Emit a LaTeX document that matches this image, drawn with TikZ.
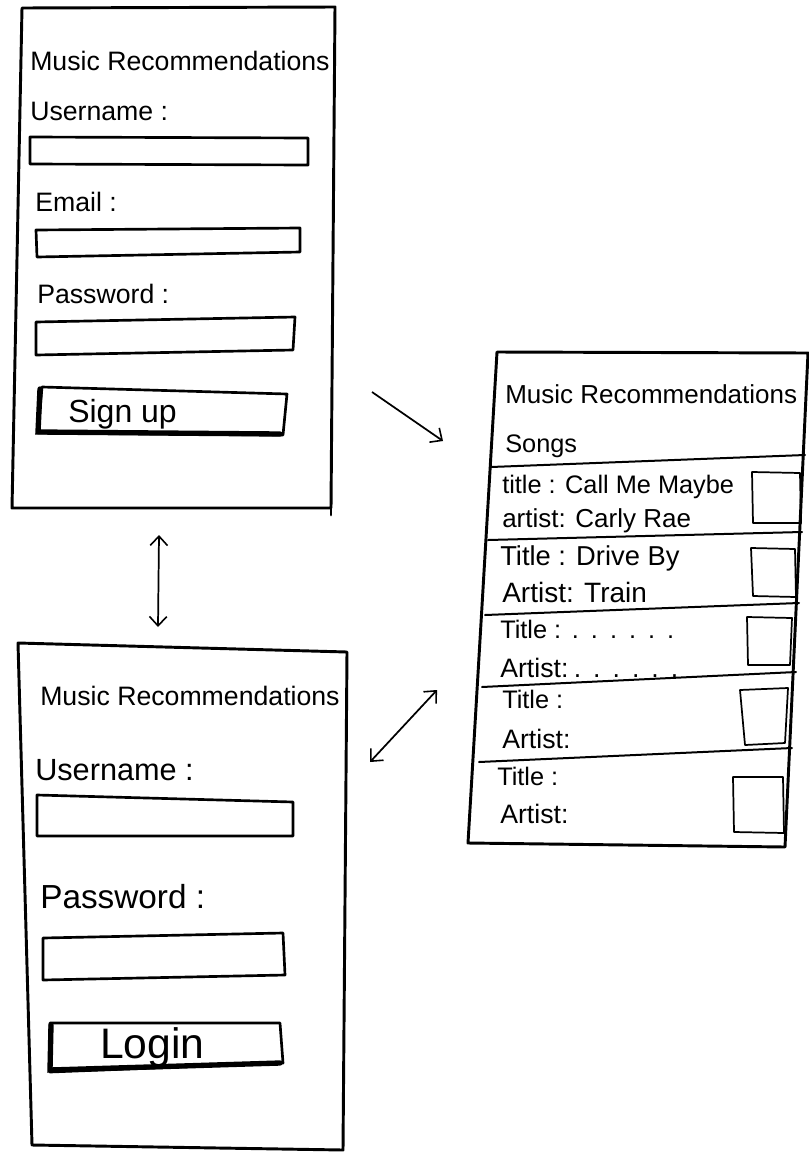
\documentclass[tikz,border=0pt]{standalone}
\usepackage{fontspec}
\setmainfont{Liberation Sans}
\usetikzlibrary{arrows.meta}
\begin{document}
\begin{tikzpicture}[x=0.75pt,y=-0.75pt,
  frame/.style={line width=2.2pt,line join=round,line cap=round},
  field/.style={line width=2pt,line join=round,line cap=round},
  sep/.style={line width=1.5pt,line cap=round},
  chk/.style={line width=1.3pt,line join=round},
  heavy/.style={line width=4pt,line cap=round},
  lbl/.style={anchor=base west,inner sep=0pt,font=\fontsize{20}{24}\selectfont},
  tip/.tip={Straight Barb[length=7pt,width=13pt,line width=1.2pt]},
  conn/.style={line width=1.3pt,-tip},
  conn2/.style={line width=1.3pt,tip-tip}]
\useasboundingbox (0,0) rectangle (809,1153);

% ---------- Sign-up screen ----------
\draw[frame] (22,8) -- (335,7) -- (331,508) -- (12,508) -- cycle;
\draw[frame] (331,508) -- (331,515);
\node[lbl] (t1) at (30,70) {Music Recommendations};
\node[lbl] (u1) at (30,120) {Username :};
\draw[field] (30,137) -- (308,138) -- (308,165) -- (30,164) -- cycle;
\node[lbl] (e1) at (35,211) {Email :};
\draw[field] (36,230) -- (300,228) -- (300,252) -- (37,257) -- cycle;
\node[lbl] (p1) at (37,303) {Password :};
\draw[field] (36,322) -- (295,317) -- (293,350) -- (36,355) -- cycle;
\draw[field] (42,387) -- (287,394) -- (283,435) -- (38,433) -- cycle;
\draw[heavy] (40,389) -- (38,432) -- (280,434);
\node[lbl,font=\fontsize{24}{28}\selectfont] (s1) at (68,422) {Sign up};

% ---------- Login screen ----------
\draw[frame] (18,643) -- (347,652) -- (343,1150) -- (32,1145) -- cycle;
\node[lbl] (t2) at (40,705) {Music Recommendations};
\node[lbl,font=\fontsize{23}{27}\selectfont] (u2) at (35,780) {Username :};
\draw[field] (37,795) -- (293,802) -- (293,836) -- (37,836) -- cycle;
\node[lbl,font=\fontsize{25}{29}\selectfont] (p2) at (40,908) {Password :};
\draw[field] (43,938) -- (283,933) -- (285,975) -- (43,980) -- cycle;
\draw[field] (50,1023) -- (280,1023) -- (283,1063) -- (50,1072) -- cycle;
\draw[heavy] (51,1025) -- (50,1070) -- (280,1063);
\node[lbl,font=\fontsize{32}{36}\selectfont] (l2) at (100,1058) {Login};

% ---------- Songs screen ----------
\draw[frame] (497,352) -- (808,353) -- (785,847) -- (468,843) -- cycle;
\node[lbl,font=\fontsize{19.5}{23}\selectfont] (t3) at (505,403) {Music Recommendations};
\node[lbl,font=\fontsize{19}{23}\selectfont] (sg) at (505,452) {Songs};
\draw[sep] (491,467) -- (805,455);
\draw[sep] (488,540) -- (802,532);
\draw[sep] (485,615) -- (799,603);
\draw[sep] (482,687) -- (796,672);
\draw[sep] (479,762) -- (792,748);

\node[lbl,font=\fontsize{19}{23}\selectfont] (r1t) at (502,493) {title : Call Me Maybe};
\node[lbl,font=\fontsize{19.5}{23}\selectfont] (r1a) at (502,527) {artist: Carly Rae};
\draw[chk] (752,472) -- (800,473) -- (801,523) -- (753,523) -- cycle;

\node[lbl,font=\fontsize{20.5}{24}\selectfont] (r2t) at (500,565) {Title : Drive By};
\node[lbl,font=\fontsize{21}{24}\selectfont] (r2a) at (502,602) {Artist: Train};
\draw[chk] (751,548) -- (795,549) -- (796,597) -- (753,596) -- cycle;

\node[lbl,font=\fontsize{19}{23}\selectfont] (r3t) at (500,638) {Title :\hspace{8pt}.\hspace{9pt}.\hspace{9pt}.\hspace{9pt}.\hspace{9pt}.\hspace{9pt}.};
\node[lbl,font=\fontsize{20}{24}\selectfont] (r3a) at (500,677) {Artist:\hspace{4pt}.\hspace{9pt}.\hspace{9pt}.\hspace{9pt}.\hspace{9pt}.\hspace{9pt}.};
\draw[chk] (747,617) -- (792,618) -- (790,665) -- (748,665) -- cycle;

\node[lbl,font=\fontsize{19}{23}\selectfont] (r4t) at (502,708) {Title :};
\node[lbl,font=\fontsize{20}{24}\selectfont] (r4a) at (502,748) {Artist:};
\draw[chk] (740,690) -- (788,688) -- (785,743) -- (745,745) -- cycle;

\node[lbl,font=\fontsize{19}{23}\selectfont] (r5t) at (497,785) {Title :};
\node[lbl,font=\fontsize{20}{24}\selectfont] (r5a) at (500,823) {Artist:};
\draw[chk] (733,777) -- (783,777) -- (784,833) -- (734,832) -- cycle;

% ---------- Connectors ----------
\coordinate (a1s) at (372,392);
\coordinate (a1e) at (443,441);
\draw[conn] (a1s) -- (a1e);
\coordinate (a2s) at (159,535);
\coordinate (a2e) at (158,627);
\draw[conn2] (a2s) -- (a2e);
\coordinate (a3s) at (370,762);
\coordinate (a3e) at (437,690);
\draw[conn2] (a3s) -- (a3e);
\end{tikzpicture}
\end{document}
